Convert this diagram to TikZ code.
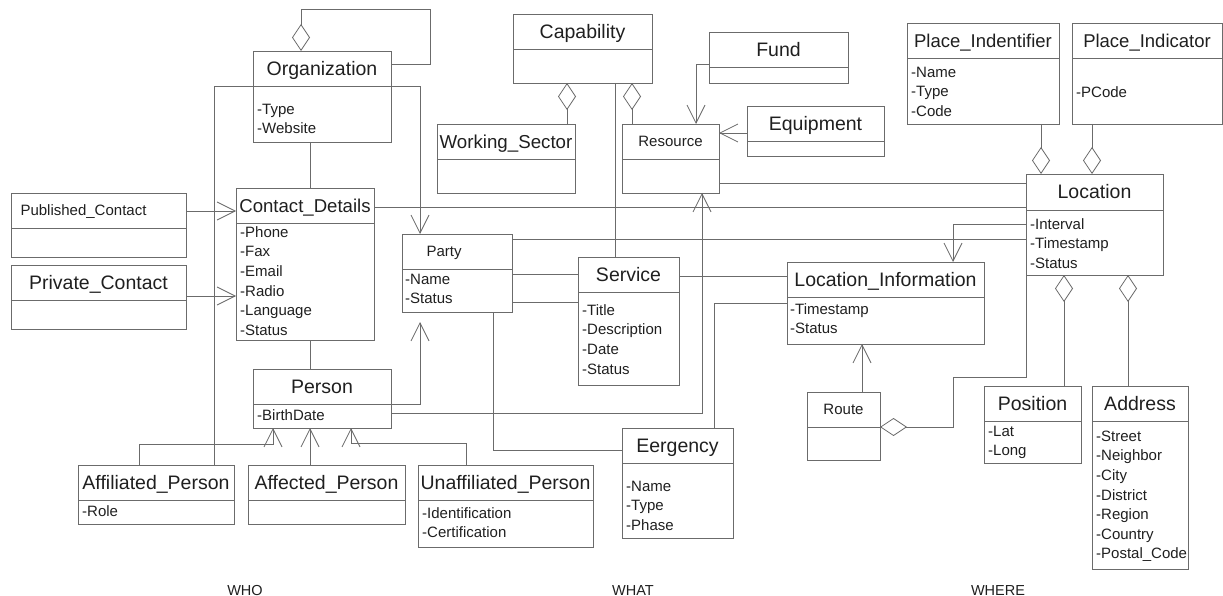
\documentclass[tikz,border=0pt]{standalone}
\usepackage{fontspec}
\setmainfont{Liberation Sans}
\usetikzlibrary{arrows.meta}
\newcommand{\fs}[1]{\fontsize{#1}{#1}\selectfont}
\tikzset{
	ln/.style={draw=black!58, line width=0.8pt},
	box/.style={ln, rectangle, inner sep=0pt, outer sep=0pt},
	ttl/.style={font=\fs{19.5}, text=black!88, inner sep=0pt, text height=14pt, text depth=0pt},
	sttl/.style={font=\fs{15}, text=black!88, inner sep=0pt, text height=10.7pt, text depth=0pt},
	attr/.style={font=\fs{15}, text=black!88, inner sep=0pt, anchor=west, text height=10.7pt, text depth=0pt},
	zone/.style={font=\fs{14.5}, text=black!88, inner sep=0pt, text height=10.4pt, text depth=0pt},
	assoc/.style={ln},
	nav/.style={ln, -{Straight Barb[length=18pt, width=18pt]}},
	aggr/.style={ln, -{Diamond[open, length=27pt, width=18pt]}}
}
\newcommand{\cls}[8][ttl]{\node[box, minimum width={#5-#3}, minimum height={#6-#4}] (#2) at ({(#3+#5)/2},{(#4+#6)/2}) {};
	\draw[ln] (#2.west |- 0,#7) -- (#2.east |- 0,#7);
	\node[#1] (#2-t) at ({(#3+#5)/2},{(#4+#7)/2}) {#8};}
\newcommand{\attrs}[4]{\foreach \a [count=\i from 0] in {#4} \node[attr] (#1-a\i) at (#2,{#3+\i*19.6}) {\a};}
\begin{document}
\begin{tikzpicture}[x=1pt, y=-1pt]
	\useasboundingbox (0,0) rectangle (1223,596);
	\cls{org}{253}{51}{391}{142}{86}{Organization} \attrs{org}{257}{109}{-Type,-Website}
	\cls{contact}{236}{188}{374}{340}{223}{\fs{18.6}Contact\_Details} \attrs{contact}{240}{232}{-Phone,-Fax,-Email,-Radio,-Language,-Status}
	\cls[sttl]{pub}{11}{193}{186}{257}{228}{Published\_Contact\hspace*{30pt}}
	\cls{priv}{11}{265}{186}{329}{300}{Private\_Contact}
	\cls{person}{253}{369}{391}{428}{404}{Person} \attrs{person}{257}{415}{-BirthDate}
	\cls{affil}{78}{465}{234}{524}{500}{Affiliated\_Person} \attrs{affil}{82}{511}{-Role}
	\cls{affect}{248}{465}{405}{524}{500}{Affected\_Person}
	\cls{unaff}{418}{465}{593}{547}{500}{Unaffiliated\_Person} \attrs{unaff}{422}{513}{-Identification,-Certification}
	\cls[sttl]{party}{402}{234}{512}{312}{269}{Party\hspace*{26pt}} \attrs{party}{405}{279}{-Name,-Status}
	\cls{cap}{513}{14}{652}{83}{49}{Capability}
	\cls{ws}{437}{124}{575}{193}{159}{\fs{18.7}Working\_Sector}
	\cls[sttl]{res}{622}{124}{719}{193}{159}{Resource}
	\cls{fund}{709}{32}{848}{83}{67}{Fund}
	\cls{equip}{747}{106}{884}{156}{141}{Equipment}
	\cls{serv}{578}{257}{679}{385}{292}{Service} \attrs{serv}{582}{310}{-Title,-Description,-Date,-Status}
	\cls{emerg}{622}{428}{733}{538}{463}{Eergency} \attrs{emerg}{626}{486}{-Name,-Type,-Phase}
	\cls{locinfo}{787}{262}{984}{344}{297}{Location\_Information} \attrs{locinfo}{790}{309}{-Timestamp,-Status}
	\cls[sttl]{route}{807}{392}{880}{460}{427}{Route}
	\cls{pid}{907}{23}{1059}{124}{58}{\fs{18.5}Place\_Indentifier} \attrs{pid}{911}{72}{-Name,-Type,-Code}
	\cls{pind}{1072}{23}{1222}{124}{58}{\fs{18.5}Place\_Indicator} \attrs{pind}{1076}{92}{-PCode}
	\cls{loc}{1026}{174}{1163}{275}{210}{Location} \attrs{loc}{1030}{224}{-Interval,-Timestamp,-Status}
	\cls{pos}{984}{386}{1081}{463}{421}{Position} \attrs{pos}{988}{431}{-Lat,-Long}
	\cls{addr}{1092}{386}{1188}{569}{421}{Address} \attrs{addr}{1096}{436}{-Street,-Neighbor,-City,-District,-Region,-Country,-Postal\_Code}
	\draw[aggr] (org.east |- 0,64) -- (430,64) -- (430,9) -- (301,9) -- (org.north -| 301,0);
	\draw[assoc] (org.south -| 310,0) -- (contact.north -| 310,0);
	\draw[assoc] (contact.south -| 310,0) -- (person.north -| 310,0);
	\draw[assoc] (org.west |- 0,86) -| (affil.north -| 214,0);
	\draw[nav] (org.east |- 0,86) -| (party.north -| 420,0);
	\draw[nav] (pub.east |- 0,211) -- (contact.west |- 0,211);
	\draw[nav] (priv.east |- 0,296) -- (contact.west |- 0,296);
	\draw[nav, shorten >=10pt] (person.east |- 0,404) -| (party.south -| 420,0);
	\draw[nav] (person.east |- 0,413) -| (res.south -| 702,0);
	\draw[nav] (affil.north -| 139,0) -- (139,444) -| (person.south -| 273,0);
	\draw[nav] (affect.north -| 310,0) -- (person.south -| 310,0);
	\draw[nav] (unaff.north -| 466,0) -- (466,443) -| (person.south -| 351,0);
	\draw[aggr] (ws.north -| 567,0) -- (cap.south -| 567,0);
	\draw[aggr] (res.north -| 632,0) -- (cap.south -| 632,0);
	\draw[assoc] (cap.south -| 615,0) -- (serv.north -| 615,0);
	\draw[nav] (fund.west |- 0,64) -| (res.north -| 696,0);
	\draw[nav] (equip.west |- 0,133) -- (res.east |- 0,133);
	\draw[assoc] (party.east |- 0,274) -- (serv.west |- 0,274);
	\draw[assoc] (party.east |- 0,302) -- (serv.west |- 0,302);
	\draw[assoc] (party.south -| 493,0) |- (emerg.west |- 0,450);
	\draw[assoc] (serv.east |- 0,276) -- (locinfo.west |- 0,276);
	\draw[assoc] (locinfo.west |- 0,303) -| (emerg.north -| 714,0);
	\draw[assoc] (res.east |- 0,183) -- (loc.west |- 0,183);
	\draw[assoc] (contact.east |- 0,207) -- (loc.west |- 0,207);
	\draw[assoc] (party.east |- 0,239) -- (loc.west |- 0,239);
	\draw[nav] (loc.west |- 0,224) -| (locinfo.north -| 953,0);
	\draw[aggr] (pid.south -| 1041,0) -- (loc.north -| 1041,0);
	\draw[aggr] (pind.south -| 1092,0) -- (loc.north -| 1092,0);
	\draw[aggr] (pos.north -| 1064,0) -- (loc.south -| 1064,0);
	\draw[aggr] (addr.north -| 1128,0) -- (loc.south -| 1128,0);
	\draw[aggr] (loc.south west) |- (953,377) |- (route.east |- 0,427);
	\draw[nav] (route.north -| 862,0) -- (locinfo.south -| 862,0);
	\node[zone] (who) at (245,590) {WHO};
	\node[zone] (what) at (633,590) {WHAT};
	\node[zone] (where) at (998,590) {WHERE};
\end{tikzpicture}
\end{document}
